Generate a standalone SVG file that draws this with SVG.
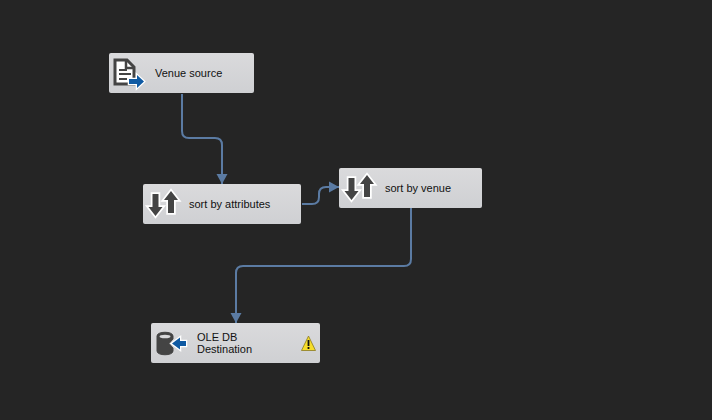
<svg xmlns="http://www.w3.org/2000/svg" width="712" height="420" viewBox="0 0 712 420">
<style>
.box{fill:url(#g)}
.lbl{font-family:"Liberation Sans",Arial,sans-serif;font-size:11px;fill:#111}
.conn{fill:none;stroke:#5b7ba3;stroke-width:2}
.dark{fill:#444}
.halo{fill:#444;stroke:#fff;stroke-width:3.500;paint-order:stroke;stroke-linejoin:miter}
.blue{fill:#0f5aa3;stroke:#fff;stroke-width:2.500;paint-order:stroke}
</style>
<defs>
<linearGradient id="g" x1="0" y1="0" x2="0" y2="1"><stop offset="0" stop-color="#dadadc"/><stop offset="1" stop-color="#cfd0d3"/></linearGradient>
<marker id="a" markerUnits="userSpaceOnUse" markerWidth="12" markerHeight="12" refX="10" refY="6" orient="auto"><path d="M0 0.500L10 6L0 11.500z" fill="#5b7ba3"/></marker>
<g id="sort">
<path class="halo" d="M4.500 4h6v13h4l-7 9l-7 -9h4z"/>
<path class="halo" d="M23 1l7 9h-4v13h-6v-13h-4z"/>
</g>
</defs>
<rect width="712" height="420" fill="#252525"/>
<g id="connectors">
<path class="conn" marker-end="url(#a)" d="M182 94V131Q182 138 189 138H215Q222 138 222 145V184"/>
<path class="conn" marker-end="url(#a)" d="M302 204H312Q319 204 319 197V194Q319 187 326 187H339"/>
<path class="conn" marker-end="url(#a)" d="M411 208V259Q411 266 404 266H243Q236 266 236 273V323"/>
</g>
<g id="venue-source">
<rect class="box" x="109" y="53" width="145" height="40" rx="2"/>
<path d="M115 60h12l7 7v17h-19z" fill="#fff" stroke="#444" stroke-width="3"/>
<path d="M126 60v8h8" fill="none" stroke="#444" stroke-width="2.500"/>
<path d="M119 70h8M119 74h12M119 79h8" stroke="#444" stroke-width="2"/>
<path class="blue" d="M129 79h8v-4l7 6.500l-7 6.500v-4h-8z"/>
<text class="lbl" x="155" y="77">Venue source</text>
</g>
<g id="sort-by-attributes">
<rect class="box" x="143" y="184" width="158" height="40" rx="2"/>
<use href="#sort" x="148" y="190"/>
<text class="lbl" x="189" y="208">sort by attributes</text>
</g>
<g id="sort-by-venue">
<rect class="box" x="339" y="168" width="143" height="40" rx="2"/>
<use href="#sort" x="344" y="174"/>
<text class="lbl" x="385" y="192">sort by venue</text>
</g>
<g id="ole-db-destination">
<rect class="box" x="151" y="323" width="169" height="40" rx="2"/>
<path class="dark" d="M157 336c0 -5 16 -5 16 0v3l-4 4.500l4 4.500v3c0 5 -16 5 -16 0z" stroke="#444"/>
<ellipse cx="165" cy="336.500" rx="5.500" ry="1.800" fill="#d8d8da"/>
<path class="blue" d="M172 343.500l8 -6v3.500h6v5h-6v3.500z"/>
<text class="lbl" x="197" y="341">OLE DB</text>
<text class="lbl" x="197" y="353">Destination</text>
<path d="M308.500 336l7 14.500h-14z" fill="#f6dd2a" stroke="#8a7a20" stroke-width="0.800"/>
<path d="M308.500 340v6M308.500 347v2" stroke="#111" stroke-width="1.800"/>
</g>
</svg>
